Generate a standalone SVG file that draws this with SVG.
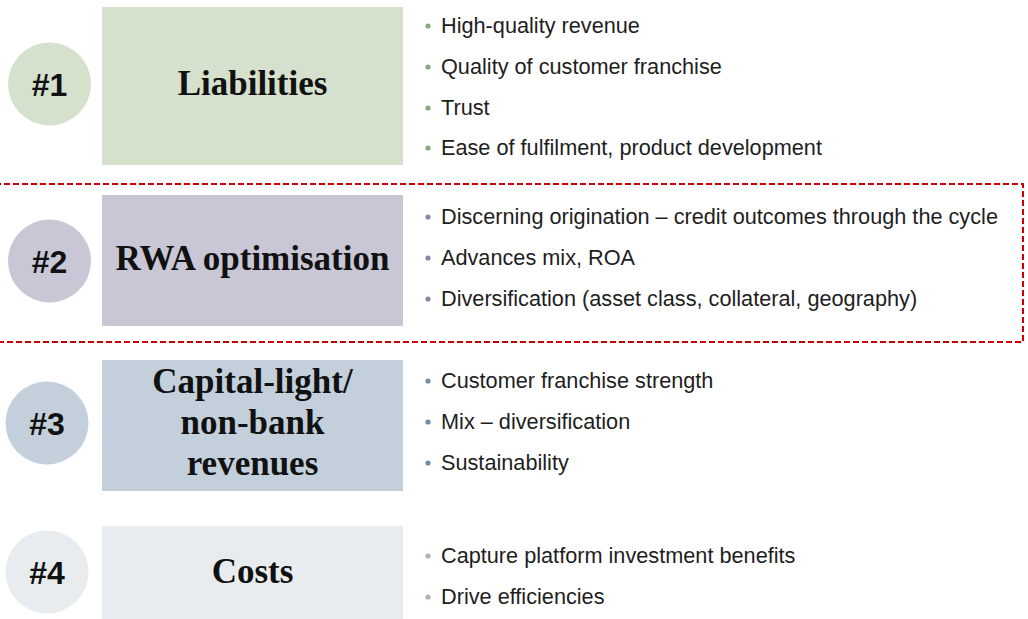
<svg xmlns="http://www.w3.org/2000/svg" width="1028" height="619" viewBox="0 0 1028 619">
  <style>
    .num { font-family: "Liberation Sans", Arial, sans-serif; font-size: 32px; font-weight: bold; fill: #111; text-anchor: middle; }
    .title { font-family: "Liberation Serif", "Times New Roman", serif; font-size: 35px; font-weight: bold; fill: #111; text-anchor: middle; }
    .item { font-family: "Liberation Sans", Arial, sans-serif; font-size: 21.7px; fill: #1e1e1e; }
    .frame { fill: none; stroke: #cc0000; stroke-width: 2; stroke-dasharray: 6 3; }
  </style>
  <rect width="1028" height="619" fill="#ffffff"/>

  <!-- highlight frame around priority #2 -->
  <rect class="frame" x="-5" y="184" width="1028" height="158"/>

  <!-- #1 Liabilities -->
  <g id="liabilities">
    <circle cx="49.5" cy="84" r="41.5" fill="#d5e0cd"/>
    <text class="num" x="49.5" y="96">#1</text>
    <rect x="102" y="7" width="301" height="158" fill="#d5e0cd"/>
    <text class="title" x="252.5" y="95">Liabilities</text>
    <g fill="#8aa880">
      <circle cx="428" cy="26" r="2.6"/>
      <circle cx="428" cy="67" r="2.6"/>
      <circle cx="428" cy="108" r="2.6"/>
      <circle cx="428" cy="148" r="2.6"/>
    </g>
    <text class="item" x="441" y="33">High-quality revenue</text>
    <text class="item" x="441" y="74">Quality of customer franchise</text>
    <text class="item" x="441" y="115">Trust</text>
    <text class="item" x="441" y="155">Ease of fulfilment, product development</text>
  </g>

  <!-- #2 RWA optimisation -->
  <g id="rwa">
    <circle cx="49.5" cy="261" r="41.5" fill="#c9c7d6"/>
    <text class="num" x="49.5" y="273">#2</text>
    <rect x="102" y="195" width="301" height="131" fill="#c9c7d6"/>
    <text class="title" x="252.5" y="270">RWA optimisation</text>
    <g fill="#8a86a6">
      <circle cx="428" cy="217" r="2.6"/>
      <circle cx="428" cy="258" r="2.6"/>
      <circle cx="428" cy="299" r="2.6"/>
    </g>
    <text class="item" x="441" y="224">Discerning origination – credit outcomes through the cycle</text>
    <text class="item" x="441" y="265">Advances mix, ROA</text>
    <text class="item" x="441" y="306">Diversification (asset class, collateral, geography)</text>
  </g>

  <!-- #3 Capital-light / non-bank revenues -->
  <g id="capital-light">
    <circle cx="47" cy="423" r="41.5" fill="#c3d0dc"/>
    <text class="num" x="47" y="435">#3</text>
    <rect x="102" y="360" width="301" height="131" fill="#c3d0dc"/>
    <text class="title" x="252.5" y="393">Capital-light/</text>
    <text class="title" x="252.5" y="434">non-bank</text>
    <text class="title" x="252.5" y="475">revenues</text>
    <g fill="#6f8fa8">
      <circle cx="428" cy="381" r="2.6"/>
      <circle cx="428" cy="422" r="2.6"/>
      <circle cx="428" cy="463" r="2.6"/>
    </g>
    <text class="item" x="441" y="388">Customer franchise strength</text>
    <text class="item" x="441" y="429">Mix – diversification</text>
    <text class="item" x="441" y="470">Sustainability</text>
  </g>

  <!-- #4 Costs -->
  <g id="costs">
    <circle cx="47" cy="572" r="41.5" fill="#e8ecef"/>
    <text class="num" x="47" y="584">#4</text>
    <rect x="102" y="526" width="301" height="93" fill="#e8ecef"/>
    <text class="title" x="252.5" y="583">Costs</text>
    <g fill="#a9b4bd">
      <circle cx="428" cy="556" r="2.6"/>
      <circle cx="428" cy="597" r="2.6"/>
    </g>
    <text class="item" x="441" y="563">Capture platform investment benefits</text>
    <text class="item" x="441" y="604">Drive efficiencies</text>
  </g>

  <!-- no connectors between the priorities -->
  <g id="connectors"/>
</svg>
